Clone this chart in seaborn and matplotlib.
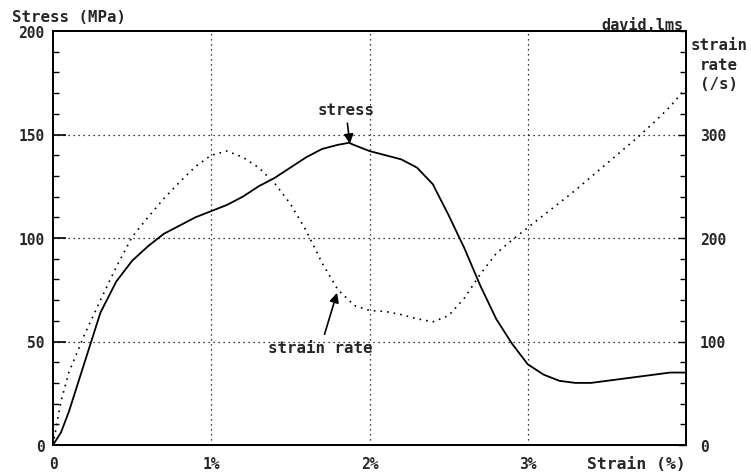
import numpy as np
import pandas as pd
import matplotlib
matplotlib.use("Agg")
import matplotlib.pyplot as plt
from matplotlib.ticker import MultipleLocator
import seaborn as sb

# values
strain = [0.0, 0.05, 0.1, 0.2, 0.3, 0.4, 0.5, 0.6, 0.7, 0.8, 0.9, 1.0, 1.1, 1.2, 1.3, 1.4,
          1.5, 1.6, 1.7, 1.8, 1.87, 1.9, 2.0, 2.1, 2.2, 2.3, 2.4, 2.5, 2.6, 2.7, 2.8, 2.9,
          3.0, 3.1, 3.2, 3.3, 3.4, 3.5, 3.6, 3.7, 3.8, 3.9, 4.0]
stress = [0, 6, 16, 40, 64, 79, 89, 96, 102, 106, 110, 113, 116, 120, 125, 129,
          134, 139, 143, 145, 146, 145, 142, 140, 138, 134, 126, 111, 95, 77, 61, 49,
          39, 34, 31, 30, 30, 31, 32, 33, 34, 35, 35]
strain_rate = [0, 42, 70, 107, 140, 172, 201, 220, 238, 254, 269, 280, 284, 278, 268, 253,
               233, 207, 176, 150, 140, 135, 130, 129, 126, 122, 119, 125, 142, 165, 185, 198,
               210, 222, 234, 246, 259, 272, 285, 298, 312, 327, 345]

stress_ticks = [0, 50, 100, 150, 200]
rate_ticks = [0, 100, 200, 300]
strain_ticks = [0, 1, 2, 3]
strain_labels = ['0', '1%', '2%', '3%']

df = pd.DataFrame({'strain': strain, 'stress': stress, 'rate': strain_rate})

sb.set_style('white')
plt.rcParams['font.family'] = ['DejaVu Sans Mono']
plt.rcParams['font.weight'] = 'bold'

fig = plt.figure(figsize=(7.51, 4.77), dpi=100)
ax = fig.add_axes([53 / 751, 31 / 477, 633 / 751, 414 / 477])
ax2 = ax.twinx()

sb.lineplot(data=df, x='strain', y='stress', ax=ax, color='black', lw=1.3)
sb.lineplot(data=df, x='strain', y='rate', ax=ax2, color='black', lw=1.2,
            linestyle=(0, (1, 3)))

ax.set_xlim(0, 4)
ax.set_ylim(0, 200)
ax2.set_ylim(0, 400)

# dotted grid
for y in stress_ticks[1:-1]:
    ax.axhline(y, color='black', lw=0.9, ls=(0, (1, 3)), zorder=0)
for x in strain_ticks[1:]:
    ax.axvline(x, color='black', lw=0.9, ls=(0, (1, 3)), zorder=0)

ax.set_xticks(strain_ticks)
ax.set_xticklabels(strain_labels, fontsize=10.5, fontweight='bold')
ax.xaxis.set_minor_locator(MultipleLocator(0.1))
ax.set_yticks(stress_ticks)
ax.set_yticklabels([str(v) for v in stress_ticks], fontsize=10.5, fontweight='bold')
ax.yaxis.set_minor_locator(MultipleLocator(10))
ax.tick_params(axis='both', which='major', direction='in', length=9, width=1.2, color='black', pad=6)
ax.tick_params(axis='both', which='minor', direction='in', length=4, width=1, color='black')
ax.tick_params(axis='x', pad=8)

ax2.set_yticks(rate_ticks)
ax2.set_yticklabels([str(v) for v in rate_ticks], fontsize=10.5, fontweight='bold')
ax2.yaxis.set_minor_locator(MultipleLocator(20))
ax2.tick_params(axis='y', which='major', direction='in', length=6, width=1, color='black', pad=10)
ax2.tick_params(axis='y', which='minor', direction='in', length=4, width=1, color='black')

ax.set_xlabel('')
ax.set_ylabel('')
ax2.set_ylabel('')
for a in (ax, ax2):
    for s in a.spines.values():
        s.set_color('black')
        s.set_linewidth(1.3)

ax.annotate('stress', xy=(1.876, 145.5), xytext=(1.85, 162), ha='center', va='center',
            fontsize=11.3, fontweight='bold',
            arrowprops=dict(arrowstyle='-|>', color='black', lw=1.2, mutation_scale=14,
                            shrinkA=2, shrinkB=0))
ax.annotate('strain rate', xy=(1.795, 73.5), xytext=(1.69, 47), ha='center', va='center',
            fontsize=11.3, fontweight='bold',
            arrowprops=dict(arrowstyle='-|>', color='black', lw=1.2, mutation_scale=14,
                            shrinkA=2, shrinkB=0))

fig.text(12 / 751, 1 - 17 / 477, 'Stress (MPa)', fontsize=11.3, fontweight='bold', va='center')
fig.text(684 / 751, 1 - 25 / 477, 'david,lms', fontsize=11, fontweight='bold', va='center', ha='right')
fig.text(719 / 751, 1 - 65 / 477, 'strain\nrate\n(/s)', fontsize=11.3, fontweight='bold',
         va='center', ha='center', linespacing=1.4)
fig.text(636 / 751, 1 - 465 / 477, 'Strain (%)', fontsize=11.8, fontweight='bold', va='center', ha='center')

plt.savefig('out.png', dpi=100)
